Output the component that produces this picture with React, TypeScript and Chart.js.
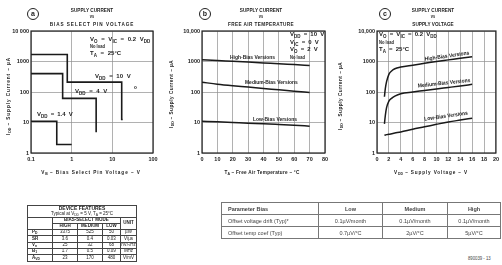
import React, { useEffect, useRef } from "react";
import { Chart, registerables } from "chart.js";

Chart.register(...registerables);

// ---------- shared axis data ----------
const currentTicks = [1, 10, 100, 1000, 10000];
const currentLabelsA = ["1", "10", "100", "1000", "10 000"];
const currentLabelsBC = ["1", "10", "100", "1000", "10,000"];

// ---------- chart (a): supply current vs bias select pin voltage ----------
const biasTicks = [0.1, 1, 10, 100];
const biasTickLabels = ["0.1", "1", "10", "100"];
const vdd14BiasV = [0.1, 0.43, 1.0];
const vdd14Current = [11, 1.9, 1.9];
const vdd4BiasV = [0.1, 0.6, 4.0];
const vdd4Current = [400, 62, 4.8];
const vdd10BiasV = [0.1, 0.78, 17, 18];
const vdd10Current = [1700, 210, 12.5, 12.5];

// ---------- chart (b): supply current vs free-air temperature ----------
const tempTicks = [0, 10, 20, 30, 40, 50, 60, 70, 80];
const tempC = [0, 10, 20, 30, 40, 50, 60, 70];
const highBiasVsTemp = [1150, 1080, 1020, 960, 900, 840, 790, 740];
const mediumBiasVsTemp = [210, 180, 160, 145, 130, 118, 106, 96];
const lowBiasVsTemp = [11, 10.5, 10, 9.5, 9.1, 8.6, 8.1, 7.6];

// ---------- chart (c): supply current vs supply voltage ----------
const vddTicks = [0, 2, 4, 6, 8, 10, 12, 14, 16, 18, 20];
const vddV = [1.25, 1.4, 1.6, 2, 2.5, 3, 4, 6, 8, 10, 12, 14, 16];
const highBiasVsVdd = [70, 130, 216, 380, 500, 580, 660, 760, 870, 1000, 1130, 1280, 1440];
const mediumBiasVsVdd = [9, 17, 30, 50, 63, 73, 88, 100, 112, 126, 141, 158, 178];
const lowBiasVsVdd = [3.8, 3.9, 4.0, 4.1, 4.3, 4.5, 4.9, 6.0, 7.2, 8.7, 10.4, 12.0, 13.8];

// ---------- tables ----------
const featureModes = ["HIGH", "MEDIUM", "LOW"];
const featureRows = ["PD", "SR", "Vn", "B1", "AVD"];
const featureHigh = ["3375", "3.6", "25", "1.7", "23"];
const featureMedium = ["525", "0.4", "32", "0.5", "170"];
const featureLow = ["50", "0.03", "68", "0.09", "480"];
const featureUnits = ["µW", "V/µs", "nV/√Hz", "MHz", "V/mV"];

const biasHeader = ["Parameter Bias", "Low", "Medium", "High"];
const driftRow = ["Offset voltage drift (Typ)*", "0.1µV/month", "0.1µV/month", "0.1µV/month"];
const tempCoefRow = ["Offset temp coef (Typ)", "0.7µV/°C", "2µV/°C", "5µV/°C"];

const FONT = '"Liberation Sans", Arial, sans-serif';
const INK = "#222";
const GRID = "#8f8f8f";

const zip = (xs: number[], ys: number[]) => xs.map((x, i) => ({ x, y: ys[i] }));

const framePlugin = {
  id: "frame",
  afterDatasetsDraw(chart: any) {
    const { ctx, chartArea: a } = chart;
    ctx.save();
    ctx.strokeStyle = INK;
    ctx.lineWidth = 1.2;
    ctx.strokeRect(a.left, a.top, a.right - a.left, a.bottom - a.top);
    ctx.restore();
  },
};

const tickFont = { family: FONT, size: 5.5, weight: "bold" as const };

function makeConfig(opts: {
  datasets: any[];
  xType: "logarithmic" | "linear";
  xMin: number;
  xMax: number;
  xTicks: number[];
  xLabels: string[];
  yLabels: string[];
  yWidth: number;
  padRight: number;
  padTop: number;
  xHeight: number;
}): any {
  return {
    type: "line",
    data: { datasets: opts.datasets },
    options: {
      animation: false,
      responsive: false,
      events: [],
      layout: { padding: { top: opts.padTop, right: opts.padRight, left: 0, bottom: 0 } },
      plugins: { legend: { display: false }, tooltip: { enabled: false } },
      scales: {
        x: {
          type: opts.xType,
          min: opts.xMin,
          max: opts.xMax,
          afterBuildTicks: (s: any) => {
            s.ticks = opts.xTicks.map((v) => ({ value: v }));
          },
          afterFit: (s: any) => {
            s.height = opts.xHeight;
          },
          ticks: {
            callback: (_v: any, i: number) => opts.xLabels[i],
            font: tickFont,
            color: INK,
            padding: 3,
            maxRotation: 0,
            autoSkip: false,
          },
          grid: { color: GRID, lineWidth: 0.7, drawTicks: false },
          border: { display: false },
        },
        y: {
          type: "logarithmic",
          min: 1,
          max: 10000,
          afterBuildTicks: (s: any) => {
            s.ticks = currentTicks.map((v) => ({ value: v }));
          },
          afterFit: (s: any) => {
            s.width = opts.yWidth;
          },
          ticks: {
            callback: (_v: any, i: number) => opts.yLabels[i],
            font: tickFont,
            color: INK,
            padding: 2,
            autoSkip: false,
          },
          grid: { color: GRID, lineWidth: 0.7, drawTicks: false },
          border: { display: false },
        },
      },
    },
    plugins: [framePlugin],
  };
}

const line = (data: any[], extra: any = {}) => ({
  data,
  borderColor: "#1a1a1a",
  borderWidth: 1.5,
  pointRadius: 0,
  fill: false,
  ...extra,
});

function ChartBox(props: { left: number; top: number; width: number; height: number; config: () => any }) {
  const ref = useRef<HTMLCanvasElement>(null);
  useEffect(() => {
    const chart = new Chart(ref.current as HTMLCanvasElement, props.config());
    return () => chart.destroy();
  }, []);
  return (
    <canvas
      ref={ref}
      width={props.width}
      height={props.height}
      style={{ position: "absolute", left: props.left, top: props.top, width: props.width, height: props.height }}
    />
  );
}

function Txt(props: {
  x: number;
  y: number;
  children: any;
  size?: number;
  bold?: boolean;
  align?: "left" | "center";
  rot?: number;
  sx?: number;
  ls?: number;
  ws?: number;
  color?: string;
}) {
  const { x, y, children, size = 5.5, bold = true, align = "left", rot = 0, sx = 0.85, ls = 0, ws = 0, color = INK } = props;
  const tx = align === "center" ? "-50%" : "0";
  return (
    <div
      style={{
        position: "absolute",
        left: x,
        top: y,
        transform: `translate(${tx}, -50%) rotate(${rot}deg) scaleX(${sx})`,
        transformOrigin: align === "center" ? "50% 50%" : "0 50%",
        fontSize: size,
        fontWeight: bold ? 700 : 400,
        letterSpacing: ls,
        wordSpacing: ws,
        whiteSpace: "nowrap",
        lineHeight: 1.2,
        fontFamily: FONT,
        color,
      }}
    >
      {children}
    </div>
  );
}

const S = (p: { children: any }) => (
  <sub style={{ fontSize: "0.75em", verticalAlign: "-0.3em", lineHeight: 0, letterSpacing: 0 }}>{p.children}</sub>
);

function Circle(props: { x: number; y: number; letter: string }) {
  return (
    <div
      style={{
        position: "absolute",
        left: props.x - 6,
        top: props.y - 6,
        width: 10,
        height: 10,
        border: `1.4px solid ${INK}`,
        borderRadius: "50%",
        fontFamily: FONT,
        fontWeight: 700,
        fontSize: 7,
        lineHeight: "9px",
        textAlign: "center",
        color: INK,
      }}
    >
      {props.letter}
    </div>
  );
}

function Title(props: { cx: number; l3: string; ls3: number }) {
  return (
    <>
      <Txt x={props.cx} y={10} align="center" size={5.5}>SUPPLY CURRENT</Txt>
      <Txt x={props.cx} y={17} align="center" size={4.5}>vs</Txt>
      <Txt x={props.cx} y={24} align="center" size={5.5} ls={props.ls3}>{props.l3}</Txt>
    </>
  );
}

const labelA = (p: string) =>
  p === "PD" ? <>P<S>D</S></> : p === "Vn" ? <>V<S>n</S></> : p === "B1" ? <>B<S>1</S></> : p === "AVD" ? <>A<S>VD</S></> : p;

function FeatureTable() {
  const cell: any = { border: "0.8px solid #444", padding: 0, textAlign: "center", height: 5.3, lineHeight: "4.8px", overflow: "hidden", whiteSpace: "nowrap" };
  const widths = [25, 25, 25, 18, 16];
  return (
    <table
      style={{
        position: "absolute",
        left: 27,
        top: 205,
        width: 109,
        borderCollapse: "collapse",
        tableLayout: "fixed",
        fontFamily: FONT,
        fontSize: 4.5,
        fontWeight: 700,
        color: INK,
        border: "1.2px solid #222",
        transform: "translateZ(0)",
      }}
    >
      <colgroup>
        {widths.map((w, i) => (
          <col key={i} style={{ width: w }} />
        ))}
      </colgroup>
      <tbody>
        <tr>
          <td colSpan={5} style={{ ...cell, height: 10.5, lineHeight: "5.2px" }}>
            <div style={{ fontSize: 5 }}>DEVICE FEATURES</div>
            <div style={{ fontWeight: 400 }}>
              Typical at V<S>DD</S> = 5 V, T<S>A</S> = 25°C
            </div>
          </td>
        </tr>
        <tr>
          <td rowSpan={2} style={cell}></td>
          <td colSpan={3} style={cell}>BIAS-SELECT MODE</td>
          <td rowSpan={2} style={cell}>UNIT</td>
        </tr>
        <tr>
          {featureModes.map((m) => (
            <td key={m} style={cell}>{m}</td>
          ))}
        </tr>
        {featureRows.map((r, i) => (
          <tr key={r}>
            <td style={{ ...cell, textAlign: "left", paddingLeft: 4 }}>{labelA(r)}</td>
            <td style={{ ...cell, fontWeight: 400 }}>{featureHigh[i]}</td>
            <td style={{ ...cell, fontWeight: 400 }}>{featureMedium[i]}</td>
            <td style={{ ...cell, fontWeight: 400 }}>{featureLow[i]}</td>
            <td style={{ ...cell, fontWeight: 400 }}>{featureUnits[i]}</td>
          </tr>
        ))}
      </tbody>
    </table>
  );
}

function BiasTable() {
  const widths = [97, 64, 65, 53];
  const rows = [biasHeader, driftRow, tempCoefRow];
  return (
    <table
      style={{
        position: "absolute",
        left: 221,
        top: 202,
        width: 279,
        borderCollapse: "collapse",
        tableLayout: "fixed",
        fontFamily: FONT,
        fontSize: 5.5,
        color: "#444",
        border: "1px solid #555",
        transform: "translateZ(0)",
        willChange: "transform",
      }}
    >
      <colgroup>
        {widths.map((w, i) => (
          <col key={i} style={{ width: w }} />
        ))}
      </colgroup>
      <tbody>
        {rows.map((r, ri) => (
          <tr key={ri}>
            {r.map((c, ci) => (
              <td
                key={ci}
                style={{
                  border: "0.8px solid #777",
                  height: 11,
                  padding: 0,
                  paddingLeft: ci === 0 ? 6 : 0,
                  textAlign: ci === 0 ? "left" : "center",
                  fontWeight: ri === 0 ? 700 : 400,
                  whiteSpace: "nowrap",
                }}
              >
                {c}
              </td>
            ))}
          </tr>
        ))}
      </tbody>
    </table>
  );
}

export default function App() {
  const configA = () =>
    makeConfig({
      datasets: [
        line(zip(vdd14BiasV, vdd14Current), { stepped: "before", borderWidth: 1.6 }),
        line(zip(vdd4BiasV, vdd4Current), { stepped: "before", borderWidth: 1.6 }),
        line(zip(vdd10BiasV, vdd10Current), { stepped: "before", borderWidth: 1.6 }),
      ],
      xType: "logarithmic",
      xMin: 0.1,
      xMax: 100,
      xTicks: biasTicks,
      xLabels: biasTickLabels,
      yLabels: currentLabelsA,
      yWidth: 31,
      padRight: 12,
      padTop: 31,
      xHeight: 32,
    });
  const configB = () =>
    makeConfig({
      datasets: [
        line(zip(tempC, highBiasVsTemp), { cubicInterpolationMode: "monotone" }),
        line(zip(tempC, mediumBiasVsTemp), { cubicInterpolationMode: "monotone" }),
        line(zip(tempC, lowBiasVsTemp), { cubicInterpolationMode: "monotone" }),
      ],
      xType: "linear",
      xMin: 0,
      xMax: 80,
      xTicks: tempTicks,
      xLabels: tempTicks.map(String),
      yLabels: currentLabelsBC,
      yWidth: 37,
      padRight: 10,
      padTop: 31,
      xHeight: 32,
    });
  const configC = () =>
    makeConfig({
      datasets: [
        line(zip(vddV, highBiasVsVdd), { cubicInterpolationMode: "monotone" }),
        line(zip(vddV, mediumBiasVsVdd), { cubicInterpolationMode: "monotone" }),
        line(zip(vddV, lowBiasVsVdd), { cubicInterpolationMode: "monotone" }),
      ],
      xType: "linear",
      xMin: 0,
      xMax: 20,
      xTicks: vddTicks,
      xLabels: vddTicks.map(String),
      yLabels: currentLabelsBC,
      yWidth: 42,
      padRight: 2,
      padTop: 31,
      xHeight: 32,
    });

  const ann = { size: 6, sx: 1, ws: 2 };
  const ser = { size: 5.5, sx: 0.9 };

  return (
    <div style={{ position: "fixed", left: 0, top: 0, width: 502, height: 265, background: "#fff", overflow: "hidden" }}>
      <ChartBox left={0} top={0} width={165} height={185} config={configA} />
      <ChartBox left={165} top={0} width={170} height={185} config={configB} />
      <ChartBox left={335} top={0} width={167} height={185} config={configC} />

      {/* chart a texts */}
      <Circle x={33} y={14} letter="a" />
      <Title cx={92} l3="BIAS SELECT PIN VOLTAGE" ls3={1.1} />
      <Txt x={90} y={40} {...ann}>V<S>O</S> = V<S>IC</S> = 0.2 V<S>DD</S></Txt>
      <Txt x={90} y={47} size={4.8}>No load</Txt>
      <Txt x={90} y={54} {...ann}>T<S>A</S> = 25°C</Txt>
      <Txt x={95} y={77} {...ann}>V<S>DD</S> = 10 V</Txt>
      <Txt x={134} y={87} size={5.5}>o</Txt>
      <Txt x={75} y={92} {...ann}>V<S>DD</S> = 4 V</Txt>
      <Txt x={37} y={115} {...ann} ws={1.5}>V<S>DD</S> = 1.4 V</Txt>
      <Txt x={91} y={172} align="center" size={5.5} ls={1.1}>V<S>B</S> – Bias Select Pin Voltage – V</Txt>
      <Txt x={8} y={96} align="center" rot={-90} size={5.5} ls={1.1}>I<S>DD</S> – Supply Current – µA</Txt>

      {/* chart b texts */}
      <Circle x={205} y={14} letter="b" />
      <Title cx={261} l3="FREE AIR TEMPERATURE" ls3={0.45} />
      <Txt x={290} y={35} {...ann} ws={1.5}>V<S>DD</S> = 10 V</Txt>
      <Txt x={290} y={42.5} {...ann} ws={1.5}>V<S>IC</S> = 0 V</Txt>
      <Txt x={290} y={50} {...ann} ws={1.5}>V<S>O</S> = 2 V</Txt>
      <Txt x={290} y={57.5} size={4.8}>No load</Txt>
      <Txt x={230} y={56.5} {...ser}>High-Bias Versions</Txt>
      <Txt x={245} y={82} {...ser}>Medium-Bias Versions</Txt>
      <Txt x={253} y={119} {...ser}>Low-Bias Versions</Txt>
      <Txt x={262} y={172} align="center" size={5.5} ls={0.3}>T<S>A</S> – Free Air Temperature – °C</Txt>
      <Txt x={171} y={94} align="center" rot={-90} size={5.5} ls={0.6}>I<S>DD</S> – Supply Current – µA</Txt>

      {/* chart c texts */}
      <Circle x={385} y={13.5} letter="c" />
      <Title cx={433} l3="SUPPLY VOLTAGE" ls3={0} />
      <Txt x={379} y={35} {...ann} ws={1.5}>V<S>O</S> = V<S>IC</S> = 0.2 V<S>DD</S></Txt>
      <Txt x={379} y={42.5} size={4.8}>No load</Txt>
      <Txt x={379} y={50} {...ann} ws={1.5}>T<S>A</S> = 25°C</Txt>
      <Txt x={447} y={55.5} align="center" rot={-8} {...ser}>High-Bias Versions</Txt>
      <Txt x={444} y={83} align="center" rot={-6} {...ser}>Medium-Bias Versions</Txt>
      <Txt x={446} y={115.5} align="center" rot={-8} {...ser}>Low-Bias Versions</Txt>
      <Txt x={431} y={172} align="center" size={5.5} ls={1.0}>V<S>DD</S> – Supply Voltage – V</Txt>
      <Txt x={340} y={96} align="center" rot={-90} size={5.5} ls={0.6}>I<S>DD</S> – Supply Current – µA</Txt>

      <FeatureTable />
      <BiasTable />
      <Txt x={468} y={258} size={5} bold={false} color="#444">890039 - 13</Txt>
    </div>
  );
}
